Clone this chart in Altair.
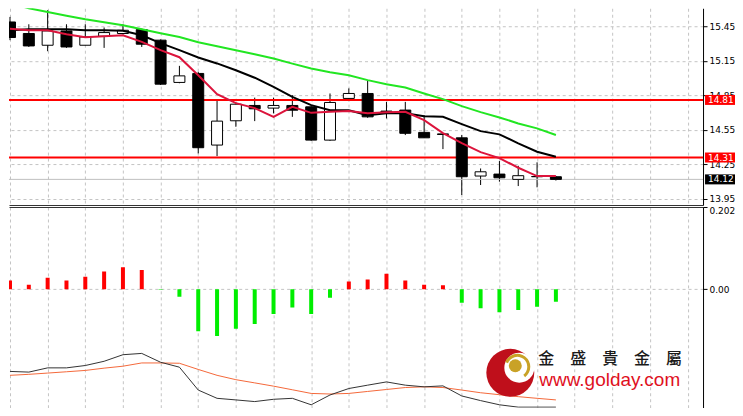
import altair as alt
import pandas as pd

# ---------------- data ----------------
bar_index = list(range(30))
open_ = [15.487, 15.387, 15.285, 15.409, 15.285, 15.363, 15.387, 15.421, 15.329, 14.962,
         15.040, 14.418, 14.629, 14.762, 14.739, 14.762, 14.750, 14.461, 14.823, 14.866,
         14.713, 14.722, 14.528, 14.515, 14.481, 14.149, 14.166, 14.120, 14.145, 14.143]
high = [15.531, 15.467, 15.589, 15.467, 15.467, 15.439, 15.467, 15.430, 15.335, 15.106,
        15.054, 14.817, 14.790, 14.830, 14.830, 14.852, 14.756, 14.866, 14.910, 14.982,
        14.793, 14.793, 14.678, 14.515, 14.505, 14.215, 14.279, 14.238, 14.268, 14.150]
low = [15.329, 15.270, 15.233, 15.262, 15.285, 15.262, 15.380, 15.270, 14.940, 14.955,
       14.346, 14.322, 14.577, 14.626, 14.693, 14.663, 14.455, 14.455, 14.800, 14.655,
       14.649, 14.505, 14.481, 14.383, 13.984, 14.071, 14.100, 14.062, 14.051, 14.110]
close = [15.352, 15.279, 15.409, 15.270, 15.357, 15.395, 15.415, 15.294, 14.947, 15.019,
         14.395, 14.626, 14.773, 14.733, 14.762, 14.721, 14.461, 14.788, 14.866, 14.663,
         14.693, 14.520, 14.481, 14.510, 14.143, 14.186, 14.134, 14.152, 14.143, 14.120]

ma_fast = [15.428, 15.415, 15.415, 15.381, 15.355, 15.363, 15.372, 15.314, 15.242, 15.181,
           15.025, 14.860, 14.782, 14.739, 14.663, 14.750, 14.698, 14.707, 14.713, 14.695,
           14.704, 14.707, 14.635, 14.522, 14.435, 14.357, 14.305, 14.221, 14.149, 14.149]
ma_mid = [15.415, 15.424, 15.424, 15.424, 15.415, 15.415, 15.411, 15.372, 15.303, 15.242,
          15.179, 15.127, 15.068, 15.003, 14.924, 14.837, 14.765, 14.721, 14.721, 14.678,
          14.695, 14.695, 14.669, 14.663, 14.600, 14.539, 14.511, 14.433, 14.360, 14.317]
ma_slow = [15.652, 15.606, 15.574, 15.541, 15.511, 15.485, 15.459, 15.424, 15.389, 15.357,
           15.311, 15.277, 15.242, 15.207, 15.170, 15.125, 15.083, 15.051, 15.025, 14.982,
           14.947, 14.918, 14.866, 14.817, 14.756, 14.704, 14.658, 14.606, 14.563, 14.505]

level_values = [14.81, 14.31]
last_price = [14.12]
tag_values = [14.81, 14.31, 14.12]
tag_texts = ["14.81", "14.31", "14.12"]
tag_colors = ["#ff0000", "#ff0000", "#000000"]
price_ticks = [15.45, 15.15, 14.85, 14.55, 14.25, 13.95]

hist = [0.0217, 0.0113, 0.0282, 0.0217, 0.0307, 0.0434, 0.0538, 0.0475, -0.0012, -0.0186,
        -0.1030, -0.1150, -0.0973, -0.0852, -0.0611, -0.0451, -0.0611, -0.0210, 0.0193, 0.0241,
        0.0379, 0.0217, 0.0113, 0.0097, -0.0331, -0.0466, -0.0562, -0.0507, -0.0427, -0.0307]
macd_line = [-0.2018, -0.2035, -0.1931, -0.1931, -0.1873, -0.1769, -0.1608, -0.1576, -0.1793, -0.1914,
             -0.2476, -0.2679, -0.2718, -0.2759, -0.2703, -0.2679, -0.2838, -0.2597, -0.2438, -0.2356,
             -0.2276, -0.2356, -0.2397, -0.2373, -0.2621, -0.2735, -0.2838, -0.2896, -0.2896, -0.2896]
signal_line = [-0.2114, -0.2090, -0.2059, -0.2027, -0.1994, -0.1938, -0.1890, -0.1810, -0.1810, -0.1818,
               -0.1970, -0.2114, -0.2221, -0.2300, -0.2380, -0.2469, -0.2559, -0.2573, -0.2559, -0.2510,
               -0.2462, -0.2414, -0.2397, -0.2414, -0.2476, -0.2542, -0.2590, -0.2638, -0.2679, -0.2718]
osc_ticks = [0.202, 0.0]

brand_cn = "金　盛　貴　金　屬"
brand_url = "www.golday.com"

# ---------------- frames ----------------
candles = pd.DataFrame({"i": bar_index, "o": open_, "h": high, "l": low, "c": close})
ma = pd.DataFrame({"i": bar_index, "f": ma_fast, "m": ma_mid, "s": ma_slow})
levels = pd.DataFrame({"v": level_values})
lastp = pd.DataFrame({"v": last_price})
tags = pd.DataFrame({"v": tag_values, "t": tag_texts, "col": tag_colors})
osc = pd.DataFrame({"i": bar_index, "hist": hist, "macd": macd_line, "sig": signal_line})
one = pd.DataFrame({"k": [0]})

# ---------------- scales / axes ----------------
W = 695
H1 = 197
H2 = 201
xs = alt.Scale(domain=[-0.053, 36.817], nice=False, zero=False, padding=0)
ys = alt.Scale(domain=[13.8975, 15.606], nice=False, zero=False, padding=0)
hs = alt.Scale(domain=[-0.291, 0.202], nice=False, zero=False, padding=0)

GRID = "#c4c4c4"
FONT = "DejaVu Sans"
grid_vals = list(range(0, 38, 2))

x_axis_bottom = alt.Axis(orient="bottom", values=grid_vals, grid=True,
                         gridDash=[3, 3], gridColor=GRID, labels=False, ticks=False,
                         domain=True, domainColor="#333333", title=None)
x_axis_top = alt.Axis(orient="top", values=grid_vals, grid=True,
                      gridDash=[3, 3], gridColor=GRID, labels=False, ticks=False,
                      domain=True, domainColor="#333333", title=None)
price_axis = alt.Axis(orient="right", values=price_ticks, format=".2f", grid=True,
                      gridDash=[3, 3], gridColor=GRID, tickSize=4, tickColor="black",
                      domainColor="black", labelFont=FONT, labelFontSize=9,
                      labelColor="black", labelPadding=2, title=None)
osc_axis = alt.Axis(orient="right", values=osc_ticks, grid=True, gridDash=[3, 3],
                    gridColor=GRID, tickSize=4, tickColor="black", domainColor="black",
                    labelFont=FONT, labelFontSize=9, labelColor="black", labelPadding=2,
                    labelFlush=True, title=None,
                    labelExpr="datum.value == 0 ? '0.00' : format(datum.value, '.3f')")


def px(field):
    return alt.X(f"{field}:Q", scale=xs, axis=x_axis_bottom)


def py(field):
    return alt.Y(f"{field}:Q", scale=ys, axis=price_axis)


def ox(field):
    return alt.X(f"{field}:Q", scale=xs, axis=x_axis_top)


def oy(field):
    return alt.Y(f"{field}:Q", scale=hs, axis=osc_axis)


# ---------------- price panel ----------------
wicks = alt.Chart(candles).mark_rule(color="black", strokeWidth=1, clip=True).encode(
    x=px("i"), y=py("l"), y2="h:Q")
bodies = alt.Chart(candles).mark_bar(size=11, orient="vertical", stroke="black",
                                     strokeWidth=1, clip=True).encode(
    x=px("i"), y=py("o"), y2="c:Q",
    fill=alt.condition("datum.c >= datum.o", alt.value("white"), alt.value("black")),
)
last_rule = alt.Chart(lastp).mark_rule(color="#c0c0c0", strokeWidth=1).encode(y=py("v"))
level_rules = alt.Chart(levels).mark_rule(color="#ff0000", strokeWidth=2).encode(y=py("v"))


def ma_line(field, color):
    return alt.Chart(ma).mark_line(color=color, strokeWidth=2, clip=True).encode(
        x=px("i"), y=py(field))


tag_boxes = alt.Chart(tags).mark_rect(yOffset=-5, y2Offset=5).encode(
    x=alt.value(697), x2=alt.value(727),
    y=py("v"), y2="v:Q",
    fill=alt.Color("col:N", scale=None),
)
tag_text = alt.Chart(tags).mark_text(align="left", baseline="middle", color="white",
                                     font=FONT, fontSize=9).encode(
    x=alt.value(700), y=py("v"), text="t:N")

price = alt.layer(
    wicks, last_rule, level_rules, bodies,
    ma_line("s", "#22e622"), ma_line("m", "#000000"), ma_line("f", "#dc143c"),
    tag_boxes, tag_text,
).properties(width=W, height=H1)

# ---------------- oscillator panel ----------------
bars = alt.Chart(osc).mark_bar(size=4, orient="vertical", clip=True).encode(
    x=ox("i"), y=oy("hist"), y2=alt.datum(0),
    color=alt.condition("datum.hist >= 0", alt.value("#ff0000"), alt.value("#00ee00")),
)
macd_l = alt.Chart(osc).mark_line(color="#333333", strokeWidth=1, clip=True).encode(
    x=ox("i"), y=oy("macd"))
sig_l = alt.Chart(osc).mark_line(color="#f4683a", strokeWidth=1, clip=True).encode(
    x=ox("i"), y=oy("sig"))

logo_red = alt.Chart(one).mark_arc(radius=24, theta=0, theta2=6.2832,
                                   color="#bf0f1b").encode(x=alt.value(502), y=alt.value(166))
logo_white = alt.Chart(one).mark_arc(radius=15, theta=0, theta2=6.2832,
                                     color="white").encode(x=alt.value(511), y=alt.value(161))
logo_ring = alt.Chart(one).mark_arc(radius=13, radius2=10, theta=5.08, theta2=8.78,
                                    color="#c9a227").encode(x=alt.value(509), y=alt.value(160))
logo_ball = alt.Chart(one).mark_arc(radius=6.5, theta=0, theta2=6.2832,
                                    color="#c9a227").encode(x=alt.value(507), y=alt.value(159))
cn_text = alt.Chart(one).mark_text(text=brand_cn, align="left", baseline="middle",
                                   font="Noto Sans CJK TC", fontSize=16, fontWeight=500,
                                   color="#1a1a1a").encode(x=alt.value(530), y=alt.value(152))
url_text = alt.Chart(one).mark_text(text=brand_url, align="left", baseline="alphabetic",
                                    font="Liberation Sans", fontSize=19,
                                    color="#e0101e").encode(x=alt.value(531), y=alt.value(179))

lower = alt.layer(
    bars, sig_l, macd_l, logo_red, logo_white, logo_ring, logo_ball, cn_text, url_text
).properties(width=W, height=H2)

chart = alt.vconcat(price, lower, spacing=2, bounds="flush").properties(
    padding=0, background="white"
).configure_view(stroke=None)

chart.save("out.html", embed_options={"renderer": "svg", "actions": False})
